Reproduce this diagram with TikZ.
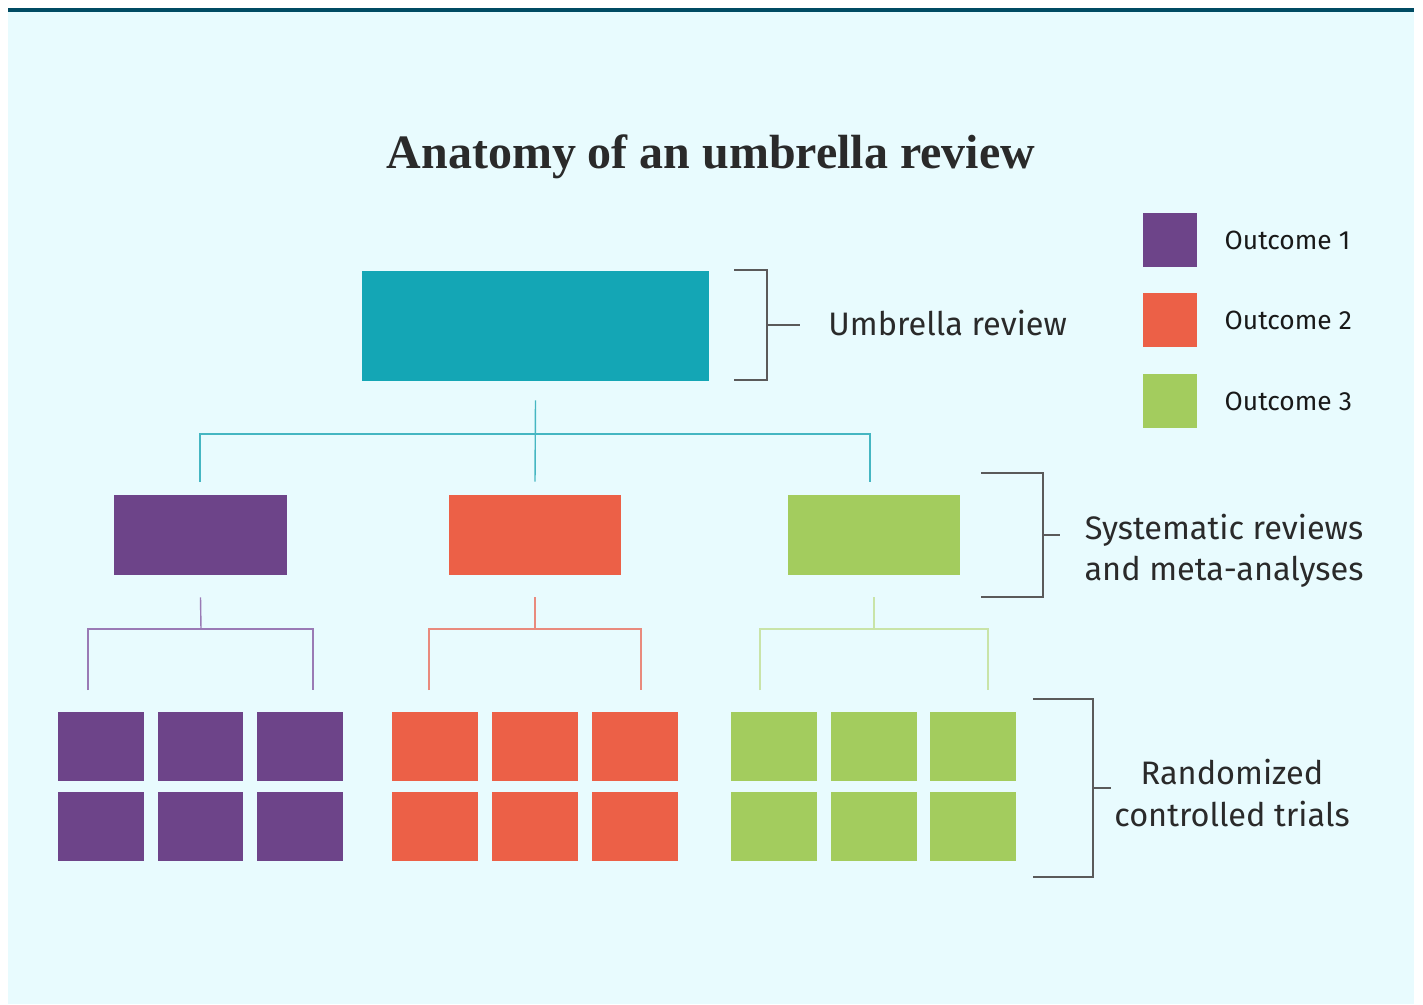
\documentclass[tikz,border=0pt]{standalone}
\usepackage{fontspec}
\setmainfont{Liberation Serif}
\newfontfamily\labelfont{Fira Sans}
\usetikzlibrary{positioning}
\definecolor{bgcyan}{HTML}{E8FBFE}
\definecolor{topbar}{HTML}{004B63}
\definecolor{umbteal}{HTML}{14A6B5}
\definecolor{outpurple}{HTML}{6D4489}
\definecolor{outred}{HTML}{EC6047}
\definecolor{outgreen}{HTML}{A3CC5E}
\definecolor{tealline}{HTML}{45B6C2}
\definecolor{purpleline}{HTML}{9A7AB5}
\definecolor{redline}{HTML}{E98A7D}
\definecolor{greenline}{HTML}{C9E4A8}
\definecolor{bracketgray}{HTML}{5A5A5A}
\definecolor{textdark}{HTML}{2A2A2A}

\begin{document}
\begin{tikzpicture}[
    x=0.02cm, y=-0.02cm,
    reviewbox/.style={
        fill=umbteal,
        minimum width=6.94cm,
        minimum height=2.2cm,
        inner sep=0pt
    },
    sysbox/.style={
        minimum width=3.46cm,
        minimum height=1.6cm,
        inner sep=0pt
    },
    trialbox/.style={
        minimum width=1.72cm,
        minimum height=1.38cm,
        inner sep=0pt
    },
    keybox/.style={
        minimum size=1.08cm,
        inner sep=0pt
    },
    keylabel/.style={
        inner sep=0pt,
        text=black!90,
        font=\labelfont\fontsize{15}{18}\selectfont
    },
    sidelabel/.style={
        inner sep=0pt,
        align=center,
        text=textdark,
        font=\labelfont\fontsize{18.5}{21}\selectfont
    },
    treeline/.style={line width=0.8pt},
    bracket/.style={draw=bracketgray, line width=0.9pt}
]
    \useasboundingbox (0,0) rectangle (1423,1004);
    \fill[bgcyan] (8,8) rectangle (1414,1004);
    \fill[topbar] (8,8) rectangle (1414,12);

    \node[anchor=base, text=textdark, font=\bfseries\fontsize{27.3}{32}\selectfont] (title) at (711,168) {
        Anatomy of an umbrella review
    };

    \node[reviewbox] (umbrella) at (535.5,326) {};

    \node[sysbox, fill=outpurple] (syspurple) at (200.5,535) {};
    \node[sysbox, fill=outred] (sysred) at (535,535) {};
    \node[sysbox, fill=outgreen] (sysgreen) at (874,535) {};

    \node[trialbox, fill=outpurple] (purpleA) at (101,746.5) {};
    \node[trialbox, fill=outpurple] (purpleB) at (200.5,746.5) {};
    \node[trialbox, fill=outpurple] (purpleC) at (300,746.5) {};
    \node[trialbox, fill=outpurple] (purpleD) at (101,826.5) {};
    \node[trialbox, fill=outpurple] (purpleE) at (200.5,826.5) {};
    \node[trialbox, fill=outpurple] (purpleF) at (300,826.5) {};
    \node[trialbox, fill=outred] (redA) at (435,746.5) {};
    \node[trialbox, fill=outred] (redB) at (535,746.5) {};
    \node[trialbox, fill=outred] (redC) at (635,746.5) {};
    \node[trialbox, fill=outred] (redD) at (435,826.5) {};
    \node[trialbox, fill=outred] (redE) at (535,826.5) {};
    \node[trialbox, fill=outred] (redF) at (635,826.5) {};
    \node[trialbox, fill=outgreen] (greenA) at (774,746.5) {};
    \node[trialbox, fill=outgreen] (greenB) at (874,746.5) {};
    \node[trialbox, fill=outgreen] (greenC) at (973,746.5) {};
    \node[trialbox, fill=outgreen] (greenD) at (774,826.5) {};
    \node[trialbox, fill=outgreen] (greenE) at (874,826.5) {};
    \node[trialbox, fill=outgreen] (greenF) at (973,826.5) {};

    \coordinate (tealjoin) at (535,434);
    \coordinate (tealleft) at (200,482);
    \coordinate (tealright) at (870,482);
    \draw[treeline, tealline] ([yshift=-0.38cm]umbrella.south) -- ([yshift=0.26cm]sysred.north);
    \draw[treeline, tealline] (tealleft) |- (tealjoin) -| (tealright);

    \coordinate (purplejoin) at (201,629);
    \coordinate (purpleleft) at (88,690);
    \coordinate (purpleright) at (313,690);
    \draw[treeline, purpleline] ([yshift=-0.44cm]syspurple.south) -- (purplejoin);
    \draw[treeline, purpleline] (purpleleft) |- (purplejoin) -| (purpleright);

    \coordinate (redjoin) at (535,629);
    \coordinate (redleft) at (429,690);
    \coordinate (redright) at (641,690);
    \draw[treeline, redline] ([yshift=-0.44cm]sysred.south) -- (redjoin);
    \draw[treeline, redline] (redleft) |- (redjoin) -| (redright);

    \coordinate (greenjoin) at (874,629);
    \coordinate (greenleft) at (760,690);
    \coordinate (greenright) at (988,690);
    \draw[treeline, greenline] ([yshift=-0.44cm]sysgreen.south) -- (greenjoin);
    \draw[treeline, greenline] (greenleft) |- (greenjoin) -| (greenright);

    \node[sidelabel, anchor=center] (umbrellalabel) at (952,323) {
        Umbrella review
    };
    \node[sidelabel, anchor=center] (syslabel) at (1224,551) {
        Systematic reviews\\[2.5pt] and meta-analyses
    };
    \node[sidelabel, anchor=center] (triallabel) at (1232,793) {
        Randomized\\[3pt] controlled trials
    };

    \coordinate (umbtop) at (734,270);
    \coordinate (umbbottom) at (734,380);
    \coordinate (umbtick) at (800,325);
    \draw[bracket] (umbtop) -| (767,380) -- (umbbottom);
    \draw[bracket] (767,325) -- (umbtick);

    \coordinate (systop) at (981,473);
    \coordinate (sysbottom) at (981,597);
    \coordinate (systick) at (1060,535);
    \draw[bracket] (systop) -| (1043,597) -- (sysbottom);
    \draw[bracket] (1043,535) -- (systick);

    \coordinate (trialtop) at (1033,699);
    \coordinate (trialbottom) at (1033,877);
    \coordinate (trialtick) at (1111,788);
    \draw[bracket] (trialtop) -| (1093,877) -- (trialbottom);
    \draw[bracket] (1093,788) -- (trialtick);

    \node[keybox, fill=outpurple] (outcomeone) at (1170,240) {};
    \node[keybox, fill=outred] (outcometwo) at (1170,320) {};
    \node[keybox, fill=outgreen] (outcomethree) at (1170,401) {};
    \node[keylabel, right=0.54cm of outcomeone] (outcomeonelabel) {
        Outcome 1
    };
    \node[keylabel, right=0.54cm of outcometwo] (outcometwolabel) {
        Outcome 2
    };
    \node[keylabel, right=0.54cm of outcomethree] (outcomethreelabel) {
        Outcome 3
    };
\end{tikzpicture}
\end{document}
